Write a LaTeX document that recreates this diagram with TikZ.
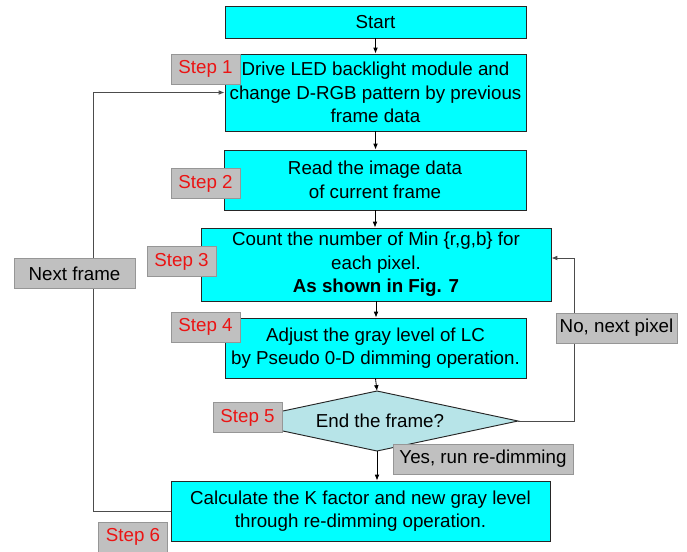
\documentclass[tikz,border=0pt]{standalone}
\usepackage{fontspec}
\setmainfont{Liberation Sans}
\usepackage{tikz}
\usetikzlibrary{arrows.meta,positioning}
\definecolor{boxcyan}{RGB}{0,255,255}
\definecolor{decfill}{RGB}{183,228,232}
\definecolor{tagfill}{RGB}{192,192,192}
\definecolor{tagline}{RGB}{150,150,150}
\definecolor{steptxt}{RGB}{235,20,20}
\tikzstyle{process}   = [rectangle, draw=black!85, line width=0.8pt, fill=boxcyan, align=center, inner sep=0pt, font=\fontsize{16}{20}\selectfont]
\tikzstyle{decision}  = [draw=black!85, line width=0.8pt, fill=decfill]
\tikzstyle{plain}     = [inner sep=0pt, font=\fontsize{16}{20}\selectfont]
\tikzstyle{tag}       = [rectangle, draw=tagline, line width=0.8pt, fill=tagfill, inner sep=0pt, minimum height=0.9cm, font=\fontsize{16}{20}\selectfont]
\tikzstyle{steptag}   = [tag, text=steptxt, minimum width=2.07cm]
\tikzstyle{arrow}     = [line width=0.7pt,-{Latex[length=5pt,width=4pt]}]
\tikzstyle{loop}      = [arrow, draw=black!70]

\begin{document}
\begin{tikzpicture}[x=0.03cm,y=-0.03cm]
		\useasboundingbox (0,0) rectangle (687,552);

		% main flow
		\node[process, minimum width=9.03cm, minimum height=0.96cm] (start) at (375.5,22) {Start};
		\node[process, minimum width=9.03cm, minimum height=2.31cm] (drive) at (375.5,92.5) {Drive LED backlight module and\\change D-RGB pattern by previous\\frame data};
		\node[process, minimum width=9.06cm, minimum height=1.8cm] (read) at (375,180) {Read the image data\\of current frame};
		\node[process, minimum width=10.5cm, minimum height=2.19cm] (count) at (376,264.5) {Count the number of Min \{r,g,b\} for\\each pixel.\\\textbf{As shown in Fig. 7}};
		\node[process, minimum width=9.03cm, minimum height=1.8cm] (adjust) at (375.5,348) {Adjust the gray level of LC\\by Pseudo 0-D dimming operation.};

		% decision
		\coordinate (endtop) at (377,391);
		\coordinate (endright) at (518,421);
		\coordinate (endbottom) at (377,451);
		\coordinate (endleft) at (236,421);
		\draw[decision] (endtop) -- (endright) -- (endbottom) -- (endleft) -- cycle;
		\node[plain] (endframe) at (380,421) {End the frame?};

		\node[process, minimum width=11.37cm, minimum height=1.8cm] (calc) at (360.5,511) {Calculate the K factor and new gray level\\through re-dimming operation.};

		\draw[arrow] (start.south) -- (start.south |- drive.north);
		\draw[arrow] (drive.south) -- (drive.south |- read.north);
		\draw[arrow] (read.south) -- (read.south |- count.north);
		\draw[arrow] (count.south) -- (count.south |- adjust.north);
		\draw[arrow] (adjust.south) -- (endtop);
		\draw[arrow] (endbottom) -- (endbottom |- calc.north);

		% loops
		\coordinate (nextturn) at (93,511);
		\coordinate (pixelturn) at (574,258);
		\draw[loop] (calc.west) -- (nextturn) |- (drive.west);
		\draw[loop] (endright) -| (pixelturn) -- (pixelturn -| count.east);

		% labels
		\node[tag, minimum width=3.63cm] (nextframe) at (74.5,273.5) {Next frame};
		\node[tag, minimum width=3.63cm] (nextpixel) at (616.5,328) {No, next pixel};
		\node[tag, minimum width=5.4cm] (yes) at (483,459) {Yes, run re-dimming};

		\node[steptag] (step1) at (205.5,69) {Step 1};
		\node[steptag] (step2) at (205.5,183.5) {Step 2};
		\node[steptag] (step3) at (181.5,261.5) {Step 3};
		\node[steptag] (step4) at (205.5,327) {Step 4};
		\node[steptag] (step5) at (247.5,417.5) {Step 5};
		\node[steptag] (step6) at (133,537) {Step 6};
	\end{tikzpicture}
\end{document}
